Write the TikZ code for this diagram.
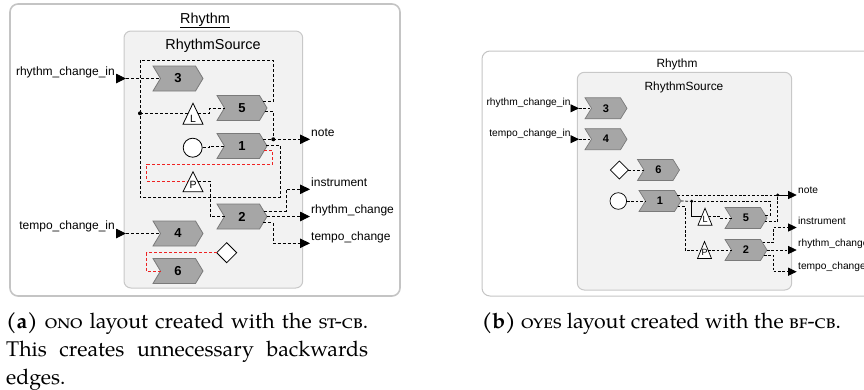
\documentclass[tikz,border=0pt]{standalone}
\usepackage{fontspec}
\setmainfont{Liberation Sans}
\newfontfamily\capfont{TeX Gyre Pagella}
\usetikzlibrary{calc,arrows.meta}

\definecolor{nodefill}{HTML}{A6A6A6}
\definecolor{nodeline}{HTML}{7A7A7A}
\definecolor{boxfill}{HTML}{F2F2F2}
\definecolor{boxline}{HTML}{C8C8C8}
\definecolor{outerline}{HTML}{C4C4C4}
\definecolor{backred}{HTML}{EE2222}

% chevron-shaped actor: name, centre, width, height, point depth, label
\newcommand\chevnode[6]{%
  \coordinate (#1) at #2;
  \filldraw[chevshape] ($(#1)+(-#3/2,-#4/2)$) -- ++(#3-#5,0) -- ++(#5,#4/2)
    -- ++(-#5,#4/2) -- ++(-#3+#5,0) -- ++(#5,-#4/2) -- cycle;
  \node[chevlabel] at (#1) {#6};}

% triangle operator: name, centre, width, height, letter, letter shift
\newcommand\trinode[6]{%
  \coordinate (#1) at #2;
  \filldraw[whiteshape] ($(#1)+(0,-#4/2)$) -- ($(#1)+(#3/2,#4/2)$)
    -- ($(#1)+(-#3/2,#4/2)$) -- cycle;
  \node[trilabel] at ($(#1)+(0,#6)$) {#5};}

\tikzset{
  outerbox/.style={draw=outerline, rounded corners=8pt},
  innerbox/.style={draw=boxline, fill=boxfill, line width=1pt, rounded corners=7pt},
  chevshape/.style={draw=nodeline, fill=nodefill, line width=0.8pt},
  whiteshape/.style={draw=black, fill=white, line width=0.8pt},
  conn/.style={draw=black, line width=0.9pt, dash pattern=on 3pt off 2pt},
  solidconn/.style={draw=black, line width=0.9pt},
  backconn/.style={conn, draw=backred},
  outarrow/.style={-{Triangle[length=10pt,width=9.5pt]}},
  portarrow/.style={draw=black, line width=0.9pt, -{Triangle[length=10pt,width=9.5pt]}},
  lab/.style={inner sep=0pt, font=\fontsize{12}{14}\selectfont},
  ttl/.style={inner sep=0pt, font=\fontsize{14.4}{16}\selectfont},
  chevlabel/.style={inner sep=0pt, font=\bfseries\fontsize{13}{13}\selectfont},
  trilabel/.style={inner sep=0pt, font=\fontsize{10.5}{11}\selectfont},
  captext/.style={inner sep=0pt, font=\capfont\fontsize{21.3}{28}\selectfont},
}

\begin{document}
\begin{tikzpicture}[x=1pt, y=-1pt]
\useasboundingbox (0,0) rectangle (864,389);
\clip (0,0) rectangle (864,389);

% ---------------- left layout ----------------
\draw[outerbox, line width=1.6pt] (10,4) rectangle (400,296);
\node[ttl, anchor=base] (rhyA) at (205,23.3) {\underline{Rhythm}};
\draw[innerbox] (124,31) rectangle (302.7,288);
\node[ttl, anchor=base] (srcA) at (213,49.5) {RhythmSource};

\chevnode{n3}{(178,78.5)}{50}{25}{7.5}{3}
\chevnode{n5}{(242,108)}{50}{25}{7.5}{5}
\chevnode{n1}{(242,146)}{50}{25}{7.5}{1}
\chevnode{n2}{(242,216.5)}{50}{25}{7.5}{2}
\chevnode{n4}{(178,233.5)}{50}{25}{7.5}{4}
\chevnode{n6}{(178,271)}{50}{25}{7.5}{6}
\trinode{tL}{(193,113.7)}{20}{21}{L}{5.5}
\trinode{tP}{(193,181.8)}{20}{20}{P}{3}
\node[whiteshape, circle, minimum size=19pt, inner sep=0pt] (cA) at (192.7,147.7) {};
\coordinate (dA) at (226.7,252.7);
\filldraw[whiteshape] ($(dA)+(-10,0)$) -- ($(dA)+(0,-10)$) -- ($(dA)+(10,0)$) -- ($(dA)+(0,10)$) -- cycle;

% ports
\coordinate (inR) at (126,78.5);
\coordinate (inT) at (126,233.5);
\coordinate (oNote) at (310,139.3);
\coordinate (oIns) at (310,189.3);
\coordinate (oRc) at (310,216.5);
\coordinate (oTc) at (310,243.3);
\draw[portarrow] ($(inR)+(-10,0)$) -- (inR);
\draw[portarrow] ($(inT)+(-10,0)$) -- (inT);
\node[lab, anchor=base east] at (115,75) {rhythm\_change\_in};
\node[lab, anchor=base east] at (115,229.5) {tempo\_change\_in};
\node[lab, anchor=base west] at (311,136.5) {note};
\node[lab, anchor=base west] at (311,186.5) {instrument};
\node[lab, anchor=base west] at (311,213.5) {rhythm\_change};
\node[lab, anchor=base west] at (311,240) {tempo\_change};

% connectors
\coordinate (busA) at (140,113.3);
\coordinate (jNoteA) at (273.3,139.3);
\draw[conn] (inR) -- ($(n3)+(-17.5,0)$);
\draw[conn] (inT) -- ($(n4)+(-17.5,0)$);
\draw[conn] ($(n5)+(21.2,-6.3)$) -- (273.3,101.7) -- (273.3,60) -- (140,60) -- (busA);
\draw[conn] ($(n1)+(24.4,-1)$) -- (280,145) -- (280,197.7) -- (140,197.7) -- (busA);
\draw[conn] (busA) -- ($(tL)+(-4.8,-0.4)$);
\draw[conn] ($(tL)+(4.8,-0.4)$) -- (209.3,113.3) -- (209.3,108) -- ($(n5)+(-17.5,0)$);
\draw[conn] (cA.east) -- (209.3,147.7) -- (209.3,146) -- ($(n1)+(-17.5,0)$);
\draw[conn] ($(n5)+(22.8,3.7)$) -- (273.3,111.7) -- (jNoteA);
\draw[conn, outarrow] ($(n1)+(21,-6.7)$) -- (jNoteA) -- (oNote);
\draw[backconn] ($(n1)+(22.2,4.7)$) -- (272.7,150.7) -- (272.7,164) -- (146.7,164) -- (146.7,181) -- ($(tP)+(-4.6,-0.8)$);
\draw[conn] ($(tP)+(4.6,-0.8)$) -- (210,181) -- (210,216.5) -- ($(n2)+(-17.5,0)$);
\draw[conn, outarrow] ($(n2)+(21.7,-5.5)$) -- (286,211) -- (286,189.3) -- (oIns);
\draw[conn, outarrow] ($(n2)+(25,0)$) -- (oRc);
\draw[conn, outarrow] ($(n2)+(21.3,6.2)$) -- (273,222.7) -- (273,243.3) -- (oTc);
\draw[backconn] ($(dA)+(-10,0)$) -- (146.7,252.7) -- (146.7,271) -- ($(n6)+(-17.5,0)$);
\fill (busA) circle (2);
\fill (jNoteA) circle (2);

% ---------------- right layout ----------------
\begin{scope}[
  chevlabel/.style={inner sep=0pt, font=\bfseries\fontsize{11}{11}\selectfont},
  trilabel/.style={inner sep=0pt, font=\fontsize{9}{10}\selectfont},
  lab/.style={inner sep=0pt, font=\fontsize{10.2}{12}\selectfont},
  ttl/.style={inner sep=0pt, font=\fontsize{11.9}{14}\selectfont},
  conn/.style={draw=black, line width=0.8pt, dash pattern=on 2.6pt off 1.8pt},
  solidconn/.style={draw=black, line width=0.8pt},
  outarrow/.style={-{Triangle[length=8.5pt,width=8pt]}},
  portarrow/.style={draw=black, line width=0.8pt, -{Triangle[length=8.5pt,width=8pt]}},
  whiteshape/.style={draw=black, fill=white, line width=0.7pt},
  chevshape/.style={draw=nodeline, fill=nodefill, line width=0.7pt}]
\draw[outerbox, line width=1pt] (482,51) rectangle (900,296);
\node[ttl, anchor=base] (rhyB) at (677,67) {Rhythm};
\draw[innerbox] (577.3,72.3) rectangle (791.7,290);
\node[ttl, anchor=base] (srcB) at (684,90) {RhythmSource};

\chevnode{m3}{(606,108.3)}{42}{21}{6.5}{3}
\chevnode{m4}{(606,139.2)}{42}{21}{6.5}{4}
\chevnode{m6}{(658.5,170)}{42}{21}{6.5}{6}
\chevnode{m1}{(660,201)}{42}{21}{6.5}{1}
\chevnode{m5}{(746,218)}{42}{21}{6.5}{5}
\chevnode{m2}{(746,250)}{42}{21}{6.5}{2}
\trinode{sL}{(705,216.7)}{14}{17}{L}{3}
\trinode{sP}{(704.5,250)}{14}{17}{P}{2}
\node[whiteshape, circle, minimum size=16.6pt, inner sep=0pt] (cB) at (618.3,201) {};
\coordinate (dB) at (619.3,170);
\filldraw[whiteshape] ($(dB)+(-9,0)$) -- ($(dB)+(0,-9)$) -- ($(dB)+(9,0)$) -- ($(dB)+(0,9)$) -- cycle;

\coordinate (inRB) at (579,108.3);
\coordinate (inTB) at (579,139.2);
\coordinate (oNoteB) at (796.7,195);
\coordinate (oInsB) at (796.7,227.5);
\coordinate (oRcB) at (796.7,250);
\coordinate (oTcB) at (796.7,271.7);
\draw[portarrow] ($(inRB)+(-8.5,0)$) -- (inRB);
\draw[portarrow] ($(inTB)+(-8.5,0)$) -- (inTB);
\node[lab, anchor=base east] at (570.7,105) {rhythm\_change\_in};
\node[lab, anchor=base east] at (570.7,136.5) {tempo\_change\_in};
\node[lab, anchor=base west] at (798,193.5) {note};
\node[lab, anchor=base west] at (798,224.5) {instrument};
\node[lab, anchor=base west] at (798,246.5) {rhythm\_change};
\node[lab, anchor=base west] at (798,269.5) {tempo\_change};

\coordinate (jNoteB) at (777.7,195);
\coordinate (jLB) at (691.7,201.3);
\draw[conn] (inRB) -- ($(m3)+(-14.5,0)$);
\draw[conn] (inTB) -- ($(m4)+(-14.5,0)$);
\draw[conn] ($(dB)+(9,0)$) -- ($(m6)+(-14.5,0)$);
\draw[conn] (cB.east) -- ($(m1)+(-14.5,0)$);
\draw[conn] ($(m1)+(17.3,-6)$) -- (jNoteB);
\draw[solidconn, outarrow] (jNoteB) -- (oNoteB);
\draw[conn] ($(m5)+(18.7,3.7)$) -- (777.7,221.7) -- (jNoteB);
\draw[conn] ($(m1)+(21,0)$) -- (jLB);
\draw[conn] ($(m5)+(19.1,-3)$) -- (770,215) -- (770,201.3) -- (jLB);
\draw[solidconn] (jLB) -- (691.7,216.7) -- ($(sL)+(-3.5,0)$);
\draw[conn] ($(sL)+(3.5,0)$) -- (720,216.7) -- (720,218) -- ($(m5)+(-14.5,0)$);
\draw[conn] ($(m1)+(17.5,5.7)$) -- (685,206.7) -- (685,250) -- ($(sP)+(-3.5,0)$);
\draw[conn] ($(sP)+(3.5,0)$) -- ($(m2)+(-14.5,0)$);
\draw[conn, outarrow] ($(m2)+(16.5,-7.3)$) -- (773.3,242.7) -- (773.3,227.5) -- (oInsB);
\draw[conn, outarrow] ($(m2)+(21,0)$) -- (oRcB);
\draw[conn, outarrow] ($(m2)+(17.9,5)$) -- (773.3,255) -- (773.3,271.7) -- (oTcB);
\fill (jNoteB) circle (1.6);
\fill (jLB) circle (1.6);
\end{scope}

% ---------------- captions ----------------
\node[captext, anchor=base west] (capA1) at (6,328) {\makebox[362pt][s]{\textbf{(a)} \textsc{ono} layout created with the \textsc{st-cb}.}};
\node[captext, anchor=base west] (capA2) at (6,356) {\makebox[362pt][s]{This creates unnecessary backwards}};
\node[captext, anchor=base west] (capA3) at (6,384) {edges.};
\node[captext, anchor=base west] (capB) at (481.7,328) {\textbf{(b)} \textsc{oyes} layout created with the \textsc{bf-cb}.};
\end{tikzpicture}
\end{document}
